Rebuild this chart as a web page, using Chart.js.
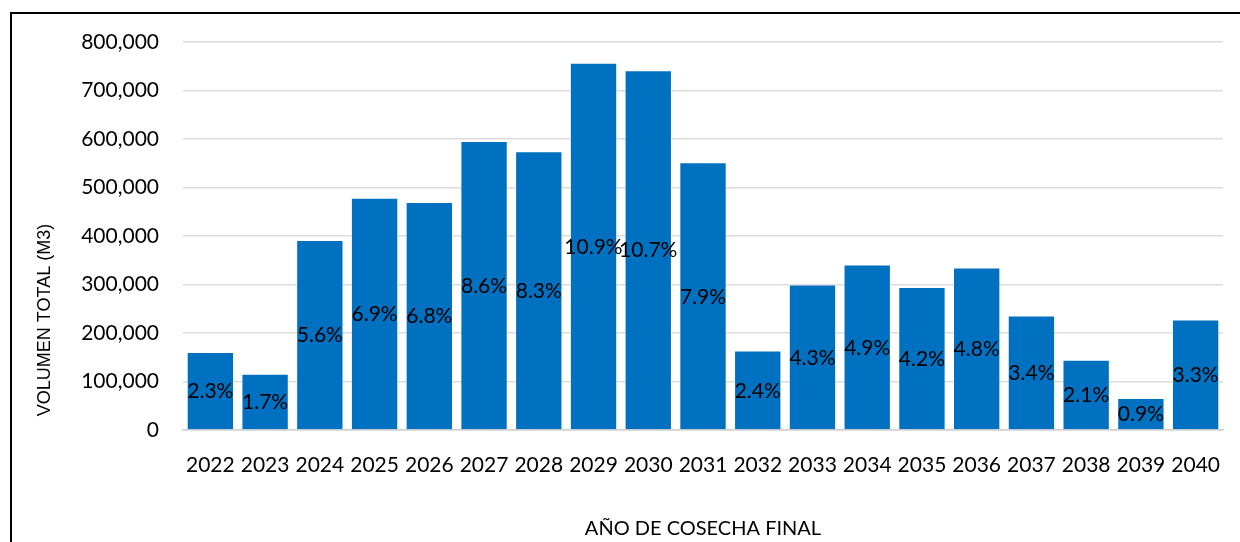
<!DOCTYPE html>
<html>
<head>
<meta charset="utf-8">
<script src="https://cdn.jsdelivr.net/npm/chart.js@4.4.1/dist/chart.umd.min.js"></script>
<style>
    html, body { margin: 0; padding: 0; background: #fff; overflow: hidden; }
    #wrap { position: relative; width: 1240px; height: 542px; }
    #frame {
        position: absolute; left: 10px; top: 12px;
        width: 1400px; height: 700px;
        border-left: 2px solid #000; border-top: 2px solid #000;
    }
    #chart { position: absolute; left: 0; top: 0; }
</style>
</head>
<body>
<div id="wrap">
    <div id="frame"></div>
    <canvas id="chart" width="1240" height="542"></canvas>
</div>
<script>
// ── Data ─────────────────────────────────────────────────────────────────────
const years = ['2022', '2023', '2024', '2025', '2026', '2027', '2028', '2029', '2030', '2031',
               '2032', '2033', '2034', '2035', '2036', '2037', '2038', '2039', '2040'];
const volumes = [161000, 116000, 392000, 479000, 470000, 596000, 575000, 757000, 742000, 552000,
                 164000, 300000, 341000, 295000, 335000, 236000, 145000, 66000, 228000];
const shares = ['2.3%', '1.7%', '5.6%', '6.9%', '6.8%', '8.6%', '8.3%', '10.9%', '10.7%', '7.9%',
                '2.4%', '4.3%', '4.9%', '4.2%', '4.8%', '3.4%', '2.1%', '0.9%', '3.3%'];
const yTicks = [0, 100000, 200000, 300000, 400000, 500000, 600000, 700000, 800000];

const yTitle = 'VOLUMEN TOTAL (M3)';
const xTitle = 'AÑO DE COSECHA FINAL';

const FONT = 'Lato, "Open Sans", sans-serif';

// ── Plugins: labels inside bars + rotated y title ───────────────────────────
const barLabels = {
    id: 'barLabels',
    afterDatasetsDraw(chart) {
        const ctx = chart.ctx;
        const meta = chart.getDatasetMeta(0);
        ctx.save();
        ctx.font = '21px ' + FONT;
        ctx.fillStyle = '#000';
        ctx.textAlign = 'center';
        ctx.textBaseline = 'middle';
        meta.data.forEach((bar, i) => {
            ctx.fillText(shares[i], bar.x, (bar.y + bar.base) / 2 + 1);
        });
        ctx.restore();
    }
};

const sideTitle = {
    id: 'sideTitle',
    afterDraw(chart) {
        const ctx = chart.ctx;
        ctx.save();
        ctx.translate(45, 320);
        ctx.rotate(-Math.PI / 2);
        ctx.font = '18px "Liberation Sans", Arial, sans-serif';
        ctx.fillStyle = '#000';
        ctx.textAlign = 'center';
        ctx.textBaseline = 'middle';
        ctx.fillText(yTitle, 0, 0);
        ctx.restore();
    }
};

// ── Chart ────────────────────────────────────────────────────────────────────
new Chart(document.getElementById('chart'), {
    type: 'bar',
    data: {
        labels: years,
        datasets: [{
            data: volumes,
            backgroundColor: '#0070C0',
            borderColor: 'rgba(255,255,255,0.55)',
            borderWidth: 1,
            categoryPercentage: 1,
            barPercentage: 0.865
        }]
    },
    options: {
        responsive: false,
        animation: false,
        layout: { padding: { left: 0, right: 17, top: 42, bottom: 0 } },
        plugins: {
            legend: { display: false },
            tooltip: { enabled: false }
        },
        scales: {
            x: {
                grid: { display: false },
                border: { color: '#d0d0d0', width: 1.5 },
                ticks: { color: '#000', font: { family: FONT, size: 21 }, padding: 15, maxRotation: 0 },
                title: {
                    display: true, text: xTitle, color: '#000',
                    font: { family: FONT, size: 20 }, padding: { top: 0, bottom: 1 }
                },
                afterFit(scale) { scale.height = 112; }
            },
            y: {
                min: 0,
                max: 800000,
                afterBuildTicks(scale) { scale.ticks = yTicks.map(v => ({ value: v })); },
                grid: { color: '#dcdcdc', lineWidth: 1.5, drawTicks: false },
                border: { display: false },
                ticks: {
                    color: '#000',
                    font: { family: FONT, size: 21 },
                    padding: 24,
                    callback: v => v.toLocaleString('en-US')
                },
                afterFit(scale) { scale.width = 183; }
            }
        }
    },
    plugins: [barLabels, sideTitle]
});
</script>
</body>
</html>
